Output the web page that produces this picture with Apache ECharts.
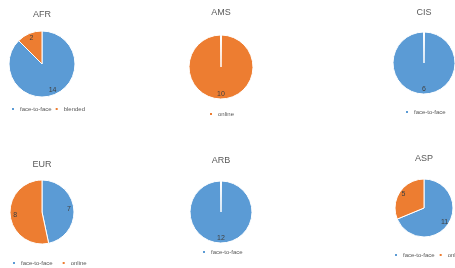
<!DOCTYPE html>
<html>
<head>
<meta charset="utf-8">
<script src="https://cdn.jsdelivr.net/npm/echarts@6/dist/echarts.min.js"></script>
<style>
  html, body { margin: 0; padding: 0; background: #fff; }
  #pies { width: 455px; height: 268px; }
</style>
</head>
<body>
<div id="pies"></div>
<script>
// data
const regions = ['AFR', 'AMS', 'CIS', 'EUR', 'ARB', 'ASP']
const sliceNames = [
  ['face-to-face', 'blended'],
  ['online'],
  ['face-to-face'],
  ['face-to-face', 'online'],
  ['face-to-face'],
  ['face-to-face', 'online']
]
const sliceValues = [
  [14, 2],
  [10],
  [6],
  [7, 8],
  [12],
  [11, 5]
]

// layout
const centers = [[42, 64], [221, 67], [424, 63], [42, 212], [221, 212], [424, 208]]
const radii = [33, 32, 31, 32, 31, 29]
const titleY = [15, 13, 13, 165, 161, 159]
const legendY = [110, 115, 113, 264, 253, 256]
const legendLeft = [10, null, null, 11, null, 393]
const legendGaps = [2, 6, 6, 8, 6, 3]
const colorOf = {
  'face-to-face': '#5B9BD5',
  'blended': '#ED7D31',
  'online': '#ED7D31'
}
const legendFont = '6px "Liberation Sans"'
const iconW = 4
const iconGap = 5 // fixed by echarts

const ctx = document.createElement('canvas').getContext('2d')
ctx.font = legendFont
function legendWidth (names, gap) {
  let w = 0
  names.forEach((n, k) => {
    w += iconW + iconGap + ctx.measureText(n).width
    if (k > 0) w += gap
  })
  return w
}

const chart = echarts.init(document.getElementById('pies'))
const titles = []
const legends = []
const series = []

regions.forEach((reg, i) => {
  const data = sliceNames[i].map((n, k) => ({
    name: n,
    value: sliceValues[i][k],
    itemStyle: { color: colorOf[n] }
  }))
  titles.push({
    text: reg,
    left: centers[i][0],
    top: titleY[i] - 5,
    textAlign: 'center',
    textStyle: { fontSize: 9, fontWeight: 'normal', color: '#595959', fontFamily: 'Liberation Sans' },
    padding: 0
  })
  const w = legendWidth(sliceNames[i], legendGaps[i])
  legends.push({
    data: sliceNames[i],
    left: legendLeft[i] !== null ? legendLeft[i] : Math.round(centers[i][0] - w / 2),
    top: legendY[i] - 4,
    width: 150,
    icon: 'rect',
    itemWidth: iconW,
    itemHeight: iconW,
    itemGap: legendGaps[i],
    padding: 0,
    textStyle: {
      fontSize: 6,
      color: '#595959',
      fontFamily: 'Liberation Sans'
    }
  })
  series.push({
    type: 'pie',
    center: centers[i],
    radius: radii[i],
    startAngle: 90,
    clockwise: true,
    padAngle: data.length === 1 ? 2 : 0,
    label: { show: false },
    labelLine: { show: false },
    emphasis: { disabled: true },
    itemStyle: { borderColor: '#fff', borderWidth: 1 },
    data: data
  })
  // transparent twin, only to put value labels at ~3/4 radius
  series.push({
    type: 'pie',
    center: centers[i],
    radius: radii[i] * 1.5,
    startAngle: 90,
    clockwise: true,
    silent: true,
    z: 3,
    label: {
      show: true,
      position: 'inside',
      formatter: '{c}',
      fontSize: 7,
      color: '#404040',
      fontFamily: 'Liberation Sans'
    },
    labelLine: { show: false },
    emphasis: { disabled: true },
    itemStyle: { color: 'rgba(0,0,0,0)', borderWidth: 0 },
    data: sliceNames[i].map((n, k) => ({ name: n, value: sliceValues[i][k] }))
  })
})

chart.setOption({
  animation: false,
  title: titles,
  legend: legends,
  series: series
})
</script>
</body>
</html>
